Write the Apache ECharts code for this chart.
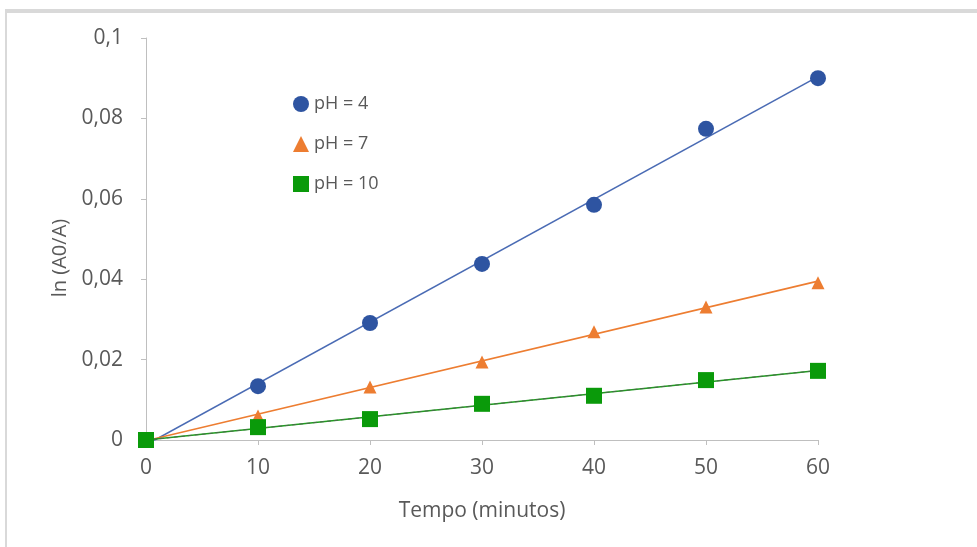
<!DOCTYPE html>
<html>
<head>
<meta charset="utf-8">
<script src="https://cdn.jsdelivr.net/npm/echarts@6/dist/echarts.min.js"></script>
<style>
  html, body { margin: 0; padding: 0; background: #fff; }
  #main { width: 977px; height: 547px; }
</style>
</head>
<body>
<div id="main"></div>
<script>
// values
var tempo = [0, 10, 20, 30, 40, 50, 60];
var ph4 = [0, 0.0134, 0.0291, 0.0438, 0.0585, 0.0774, 0.0900];
var ph7 = [0, 0.0060, 0.0132, 0.0194, 0.0269, 0.0331, 0.0391];
var ph10 = [0, 0.0032, 0.0052, 0.0090, 0.0110, 0.0149, 0.0172];
var yTicks = [0, 0.02, 0.04, 0.06, 0.08, 0.1];

var textColor = '#595959';
var axisColor = '#bfbfbf';
var font = 'Open Sans';

function pairs(ys) {
  return tempo.map(function (x, i) { return [x, ys[i]]; });
}

// excel style linear trendline, least squares on the data
function trend(ys) {
  var n = tempo.length, sx = 0, sy = 0, sxy = 0, sxx = 0;
  for (var i = 0; i < n; i++) {
    sx += tempo[i]; sy += ys[i]; sxy += tempo[i] * ys[i]; sxx += tempo[i] * tempo[i];
  }
  var b = (n * sxy - sx * sy) / (n * sxx - sx * sx);
  var a = (sy - b * sx) / n;
  var x0 = tempo[0], x1 = tempo[n - 1];
  return [[x0, a + b * x0], [x1, a + b * x1]];
}

function lineSeries(ys, color, extra) {
  var s = {
    type: 'line',
    data: trend(ys),
    symbol: 'none',
    silent: true,
    lineStyle: { color: color, width: 1.6 },
    z: 1
  };
  if (extra) Object.assign(s.lineStyle, extra);
  return s;
}

var chart = echarts.init(document.getElementById('main'));

chart.setOption({
  backgroundColor: '#fff',
  animation: false,
  graphic: [
    { type: 'rect', shape: { x: 5, y: 9, width: 972, height: 4 }, style: { fill: '#d9d9d9' } },
    { type: 'rect', shape: { x: 5, y: 13, width: 2, height: 534 }, style: { fill: '#d9d9d9' } }
  ],
  grid: { left: 146, right: 159, top: 38, bottom: 107 },
  legend: {
    orient: 'vertical',
    left: 288,
    top: 90,
    itemGap: 22,
    itemWidth: 16,
    itemHeight: 16,
    textStyle: { color: textColor, fontSize: 18, fontFamily: font },
    data: ['pH = 4', 'pH = 7', 'pH = 10']
  },
  xAxis: {
    type: 'value',
    min: 0, max: 60, interval: 10,
    name: 'Tempo (minutos)',
    nameLocation: 'middle',
    nameGap: 61,
    nameTextStyle: { color: textColor, fontSize: 21, fontFamily: font },
    axisLine: { lineStyle: { color: axisColor } },
    axisTick: { show: true, length: 5, lineStyle: { color: axisColor } },
    axisLabel: { color: textColor, fontSize: 21, fontFamily: font, margin: 18 },
    splitLine: { show: false }
  },
  yAxis: {
    type: 'value',
    min: 0, max: 0.1, interval: 0.02,
    name: 'ln (A0/A)',
    nameLocation: 'middle',
    nameGap: 76,
    nameTextStyle: { color: textColor, fontSize: 20, fontFamily: font, padding: [0, 38, 0, 0] },
    axisLine: { show: true, lineStyle: { color: axisColor } },
    axisTick: { show: true, length: 5, lineStyle: { color: axisColor } },
    axisLabel: {
      color: textColor, fontSize: 21, fontFamily: font, margin: 23,
      formatter: function (v) {
        var t = yTicks.find(function (k) { return Math.abs(k - v) < 1e-9; });
        return String(t === undefined ? v : t).replace('.', ',');
      }
    },
    splitLine: { show: false }
  },
  series: [
    lineSeries(ph4, '#4a6bb4'),
    lineSeries(ph7, '#ed7d31'),
    lineSeries(ph10, '#1e9e1e'),
    lineSeries(ph10, '#4d6b4d', { width: 1, type: [4, 3] }),
    {
      name: 'pH = 4', type: 'scatter', data: pairs(ph4),
      symbol: 'circle', symbolSize: 16,
      itemStyle: { color: '#2e54a1', opacity: 1 }, z: 3
    },
    {
      name: 'pH = 7', type: 'scatter', data: pairs(ph7),
      symbol: 'triangle', symbolSize: 13,
      itemStyle: { color: '#ed7d31', opacity: 1 }, z: 3
    },
    {
      name: 'pH = 10', type: 'scatter', data: pairs(ph10),
      symbol: 'rect', symbolSize: 16,
      itemStyle: { color: '#0a9a0a', opacity: 1 }, z: 3
    }
  ]
});
</script>
</body>
</html>
